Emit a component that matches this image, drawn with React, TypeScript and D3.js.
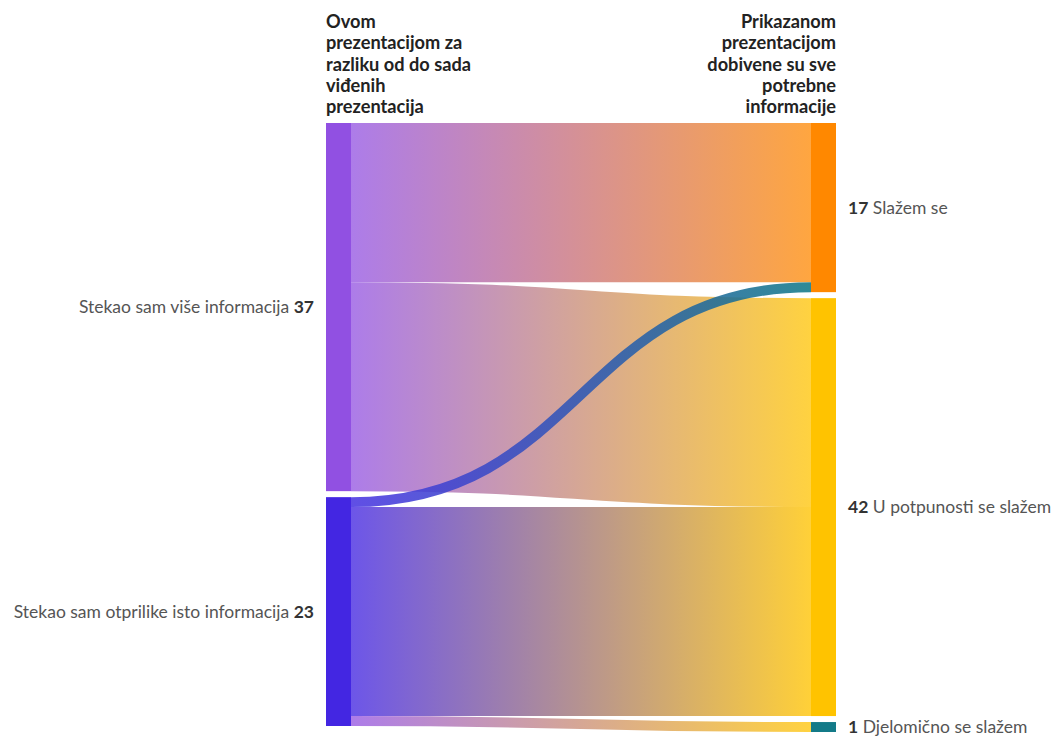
import React from "react";
import * as d3 from "d3";

const sourceNames = ["Stekao sam više informacija", "Stekao sam otprilike isto informacija"];
const sourceValues = [37, 23];
const targetNames = ["Slažem se", "U potpunosti se slažem", "Djelomično se slažem"];
const targetValues = [17, 42, 1];
const linkSources = [0, 0, 1, 1, 1];
const linkTargets = [0, 1, 0, 1, 2];
const linkValues = [16, 21, 1, 21, 1];
const leftHeader = ["Ovom", "prezentacijom za", "razliku od do sada", "viđenih", "prezentacija"];
const rightHeader = ["Prikazanom", "prezentacijom", "dobivene su sve", "potrebne", "informacije"];

const sourceColors = ["#9150e2", "#4326e2"];
const targetColors = ["#ff8800", "#ffc300", "#137a88"];
// visual gradient colours of each link [from, to, opacity]
const linkStyles: [string, string, number][] = [
  ["#9150e2", "#ff8800", 0.75],
  ["#9150e2", "#ffc300", 0.75],
  ["#4a36e2", "#137a88", 0.88],
  ["#4326e2", "#ffc300", 0.78],
  ["#9150e2", "#ffc300", 0.75],
];

const W = 1053, H = 740;
const TOP = 123;
const PAD = 6;
const X_LEFT = 326, X_RIGHT = 811, NODE_W = 25;
const FONT = "Lato, 'Source Sans Pro', sans-serif";
const LABEL_SIZE = 17.5;
const HEADER_SIZE = 18.2;

export default function App() {
  const total = d3.sum(sourceValues);
  const k = d3.scaleLinear().domain([0, total]).range([0, 597]);

  const layout = (vals: number[]) => {
    let y = TOP;
    return vals.map((v) => {
      const y0 = y;
      const y1 = y0 + k(v);
      y = y1 + PAD;
      return { y0, y1 };
    });
  };
  const sNodes = layout(sourceValues);
  const tNodes = layout(targetValues);

  const sOff = sNodes.map((n) => n.y0);
  const tOff = tNodes.map((n) => n.y0);
  const idx = linkValues.map((_, i) => i);
  const order = idx.slice().sort((a, b) => linkSources[a] - linkSources[b] || linkTargets[a] - linkTargets[b]);
  const ys: number[] = [];
  order.forEach((i) => {
    const w = k(linkValues[i]);
    ys[i] = sOff[linkSources[i]] + w / 2;
    sOff[linkSources[i]] += w;
  });
  const orderT = idx.slice().sort((a, b) => linkTargets[a] - linkTargets[b] || linkSources[a] - linkSources[b]);
  const yt: number[] = [];
  orderT.forEach((i) => {
    const w = k(linkValues[i]);
    yt[i] = tOff[linkTargets[i]] + w / 2;
    tOff[linkTargets[i]] += w;
  });

  const linkGen = d3.linkHorizontal();
  const x0 = X_LEFT + NODE_W, x1 = X_RIGHT;
  const drawOrder = [0, 1, 3, 4, 2];

  return (
    <svg width={W} height={H} style={{ position: "absolute", left: 0, top: 0, display: "block", background: "#fff" }} fontFamily={FONT}>
      <defs>
        {linkStyles.map((s, i) => (
          <linearGradient key={i} id={`lg${i}`} gradientUnits="userSpaceOnUse" x1={x0} x2={x1} y1={0} y2={0}>
            <stop offset="0%" stopColor={s[0]} />
            <stop offset="100%" stopColor={s[1]} />
          </linearGradient>
        ))}
      </defs>
      {drawOrder.map((i) => (
        <path
          key={i}
          d={linkGen({ source: [x0, ys[i]], target: [x1, yt[i]] } as any) || ""}
          fill="none"
          stroke={`url(#lg${i})`}
          strokeOpacity={linkStyles[i][2]}
          strokeWidth={k(linkValues[i])}
        />
      ))}
      {sNodes.map((n, i) => (
        <rect key={"s" + i} x={X_LEFT} y={n.y0} width={NODE_W} height={n.y1 - n.y0} fill={sourceColors[i]} />
      ))}
      {tNodes.map((n, i) => (
        <rect key={"t" + i} x={X_RIGHT} y={n.y0} width={NODE_W} height={n.y1 - n.y0} fill={targetColors[i]} />
      ))}
      {sNodes.map((n, i) => (
        <text key={"sl" + i} x={X_LEFT - 12} y={(n.y0 + n.y1) / 2 + 6} textAnchor="end" fontSize={LABEL_SIZE} fill="#555">
          {sourceNames[i]} <tspan fontWeight="bold" fill="#333">{sourceValues[i]}</tspan>
        </text>
      ))}
      {tNodes.map((n, i) => (
        <text key={"tl" + i} x={X_RIGHT + NODE_W + 12} y={(n.y0 + n.y1) / 2 + 6} textAnchor="start" fontSize={LABEL_SIZE} fill="#555">
          <tspan fontWeight="bold" fill="#333">{targetValues[i]}</tspan> {targetNames[i]}
        </text>
      ))}
      {leftHeader.map((t, i) => (
        <text key={"lh" + i} x={X_LEFT} y={28 + i * 21.25} fontSize={HEADER_SIZE} fontWeight="bold" fill="#222">
          {t}
        </text>
      ))}
      {rightHeader.map((t, i) => (
        <text key={"rh" + i} x={X_RIGHT + NODE_W} y={28 + i * 21.25} fontSize={HEADER_SIZE} fontWeight="bold" fill="#222" textAnchor="end">
          {t}
        </text>
      ))}
    </svg>
  );
}
